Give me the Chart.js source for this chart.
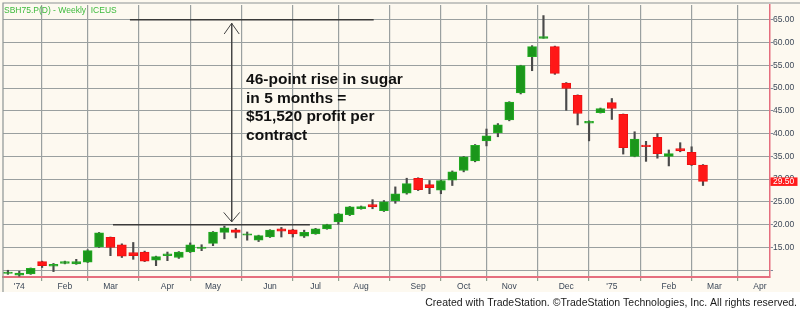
<!DOCTYPE html>
<html><head><meta charset="utf-8">
<script src="https://cdn.jsdelivr.net/npm/chart.js@4.4.1/dist/chart.umd.min.js"></script>
<style>html,body{margin:0;padding:0;background:#fff;}canvas{display:block;}</style>
</head><body>
<canvas id="c" width="800" height="315"></canvas>
<script>
// Weekly bars (index 0 = week ending Fri Jan 4 1974)
const weekIdx = [-1,0,1,2,3,4,5,6,7,8,9,10,11,12,13,14,15,16,17,18,19,20,21,22,23,24,25,26,27,28,29,30,31,32,33,34,35,36,37,38,39,40,41,42,43,44,45,46,47,48,49,50,51,52,53,54,55,56,57,58,59,60];
const opens  = [9.3,8.9,9.2,11.9,10.9,11.5,11.4,11.8,15.1,17.2,15.6,13.9,14.0,12.2,13.2,12.8,14.0,14.8,15.9,18.3,18.9,17.7,16.6,17.3,19.1,18.9,17.5,18.0,19.1,20.6,22.2,23.5,24.4,23.1,25.3,26.9,30.2,28.8,27.6,29.8,31.9,34.0,38.4,40.2,43.0,48.9,56.9,60.9,59.1,51.1,48.4,42.3,44.6,46.8,44.2,35.0,37.5,39.2,35.0,36.7,35.9,33.1];
const highs  = [10.0,9.8,10.5,12.0,11.5,12.0,12.4,14.5,18.3,17.3,15.8,16.1,14.2,13.1,14.0,14.1,16.0,15.6,18.5,19.7,19.2,18.4,17.7,18.9,19.4,19.0,18.8,19.2,20.1,22.5,24.0,24.1,25.5,25.3,28.3,30.2,30.3,29.7,29.8,31.8,35.0,37.6,41.0,42.2,47.0,55.0,59.3,65.9,59.2,51.2,48.5,42.8,45.6,47.7,44.3,40.4,38.3,40.0,36.4,38.0,37.1,33.2];
const lows   = [9.1,8.7,9.1,10.6,9.7,11.4,11.3,11.7,15.0,13.2,12.8,12.4,11.9,11.0,12.1,12.6,13.9,14.3,15.4,16.9,17.1,16.6,16.3,17.2,17.3,17.3,17.2,17.9,19.0,20.1,22.0,23.4,23.5,22.9,24.7,26.7,27.5,26.8,26.8,28.6,31.6,33.8,37.3,39.3,42.8,48.7,53.8,60.9,53.0,45.1,41.9,38.4,44.5,43.1,35.5,34.9,33.9,34.6,32.9,36.0,33.0,28.6];
const closes = [9.6,9.4,10.4,11.0,11.3,11.9,11.9,14.3,18.2,15.0,13.1,13.2,12.0,13.0,13.6,14.0,15.6,15.1,18.4,19.3,18.3,18.0,17.6,18.8,18.6,18.0,18.3,19.1,20.0,22.4,23.9,24.0,23.9,25.0,26.8,29.0,27.7,28.1,29.7,31.6,34.9,37.4,39.5,41.9,46.9,54.9,59.1,61.3,53.2,49.9,44.4,42.7,45.5,45.5,36.9,38.8,37.1,35.6,35.6,36.2,33.2,29.5];

// Axis ticks
const monthTickIdx    = [0,4,8,13,17,22,26,30,35,39,43,48,52,57,61,65];
const monthTickLabels = ["'74","Feb","Mar","Apr","May","Jun","Jul","Aug","Sep","Oct","Nov","Dec","'75","Feb","Mar","Apr"];
const priceTicks = [10,15,20,25,30,35,40,45,50,55,60,65];
const lastPrice = 29.50;

// Annotation (data space): 46-point rise from ~20 to ~65 over the period
const riseLow = 20, riseHigh = 65;
const lowLineWeeks  = [8.22, 25.5];
const highLineWeeks = [9.71, 31.1];
const arrowWeek = 18.64;
const arrowTop = 64.2, arrowBottom = 20.63;
const noteLines = ["46-point rise in sugar","in 5 months =","$51,520 profit per","contract"];

const GREEN = '#1b961b', GREEN_B = '#23ad23', RED = '#ff1717', RED_B = '#ee1010';
const up = opens.map((o,i)=>closes[i]>=o);

const bodies = weekIdx.map((w,i)=>({x:w,y:[opens[i],closes[i]]}));
const wicks  = weekIdx.map((w,i)=>({x:w,y:[lows[i],highs[i]]}));

function lineDs(pts, color, width){
  return {type:'line', data:pts, borderColor:color, borderWidth:width, pointRadius:0, fill:false, tension:0, order:-1, parsing:true};
}

const deco = {
  id:'deco',
  beforeDraw(chart){
    const ctx = chart.ctx;
    ctx.save();
    ctx.fillStyle = '#ffffff'; ctx.fillRect(0,0,800,315);
    ctx.fillStyle = '#fdf9f0'; ctx.fillRect(0,0,800,292);
    ctx.restore();
  },
  afterDraw(chart){
    const ctx = chart.ctx, xs = chart.scales.x, ys = chart.scales.y;
    ctx.save();
    // frame
    ctx.strokeStyle = '#8e9494'; ctx.lineWidth = 1.2;
    ctx.beginPath(); ctx.moveTo(3,292); ctx.lineTo(3,3); ctx.lineTo(800,3); ctx.stroke();
    // title
    ctx.fillStyle = '#3cba3c'; ctx.font = '8.5px "Liberation Sans", Arial, sans-serif';
    ctx.textBaseline = 'middle'; ctx.textAlign = 'left';
    ctx.fillText('SBH75.P(D) - Weekly  ICEUS', 4, 10.5);
    // note
    ctx.fillStyle = '#111'; ctx.font = 'bold 15.5px "Liberation Sans", Arial, sans-serif';
    ctx.textBaseline = 'alphabetic';
    const tx = xs.getPixelForValue(19.9);
    const ty = ys.getPixelForValue(50.8);
    noteLines.forEach((t,i)=>ctx.fillText(t, tx, ty + i*18.4));
    // last price tag
    const py = ys.getPixelForValue(lastPrice);
    ctx.fillStyle = '#ff1a1a'; ctx.fillRect(770.5, py-4, 27, 8.5);
    ctx.fillStyle = '#fff'; ctx.font = '8.5px "Liberation Sans", Arial, sans-serif';
    ctx.textBaseline = 'middle';
    ctx.fillText(lastPrice.toFixed(2), 773, py+0.5);
    // footer
    ctx.fillStyle = '#1a1a1a'; ctx.font = '10.5px "Liberation Sans", Arial, sans-serif';
    ctx.textAlign = 'right';
    ctx.fillText('Created with TradeStation. \u00A9TradeStation Technologies, Inc. All rights reserved.', 797, 303);
    ctx.restore();
  }
};

new Chart(document.getElementById('c'), {
  type:'bar',
  data:{
    datasets:[
      {data:bodies, grouped:false, barThickness:9, order:0,
       backgroundColor:up.map(u=>u?GREEN:RED), borderColor:up.map(u=>u?GREEN_B:RED_B), borderWidth:1, borderSkipped:false},
      {data:wicks, grouped:false, barThickness:1.5, order:1, backgroundColor:'#4a4a4a', borderWidth:0},
      lineDs([{x:highLineWeeks[0],y:riseHigh},{x:highLineWeeks[1],y:riseHigh}], '#3a3a3a', 1.6),
      lineDs([{x:lowLineWeeks[0],y:riseLow},{x:lowLineWeeks[1],y:riseLow}], '#3a3a3a', 1.6),
      lineDs([{x:arrowWeek,y:arrowTop},{x:arrowWeek,y:arrowBottom}], '#444', 1),
      lineDs([{x:arrowWeek-0.66,y:61.85},{x:arrowWeek,y:arrowTop},{x:arrowWeek+0.66,y:61.85}], '#444', 1),
      lineDs([{x:arrowWeek-0.7,y:22.7},{x:arrowWeek,y:arrowBottom},{x:arrowWeek+0.7,y:22.7}], '#444', 1)
    ]
  },
  options:{
    responsive:false, animation:false, devicePixelRatio:1,
    layout:{padding:{left:3,top:3,right:0,bottom:0}},
    plugins:{legend:{display:false}, tooltip:{enabled:false}, title:{display:false}},
    scales:{
      x:{type:'linear', min:-1.43, max:65.88, offset:false,
        afterBuildTicks:(ax)=>{ax.ticks = monthTickIdx.map(v=>({value:v}));},
        afterFit:(ax)=>{ax.height = 38;},
        grid:{color:'#9aa0a0', lineWidth:1.2, tickLength:4, tickColor:'#8fa08f'},
        border:{color:'#e56e7e', width:2},
        ticks:{autoSkip:false, maxRotation:0, padding:1, color:'#3c4858',
          font:{family:'"Liberation Sans", Arial, sans-serif', size:8.5},
          callback:(v)=>{const k = monthTickIdx.indexOf(v); return k>=0?monthTickLabels[k]:'';}}
      },
      y:{type:'linear', position:'right', min:8.52, max:68.2,
        afterBuildTicks:(ax)=>{ax.ticks = priceTicks.map(v=>({value:v}));},
        afterFit:(ax)=>{ax.width = 30;},
        grid:{color:'#9aa0a0', lineWidth:1, tickLength:3, tickColor:'#7d8a9a'},
        border:{color:'#e56e7e', width:1.5},
        ticks:{padding:0, color:'#3c4858', crossAlign:'near',
          font:{family:'"Liberation Sans", Arial, sans-serif', size:8.5},
          callback:(v)=> v===10 ? '' : v.toFixed(2)}
      }
    }
  },
  plugins:[deco]
});
</script>
</body></html>
